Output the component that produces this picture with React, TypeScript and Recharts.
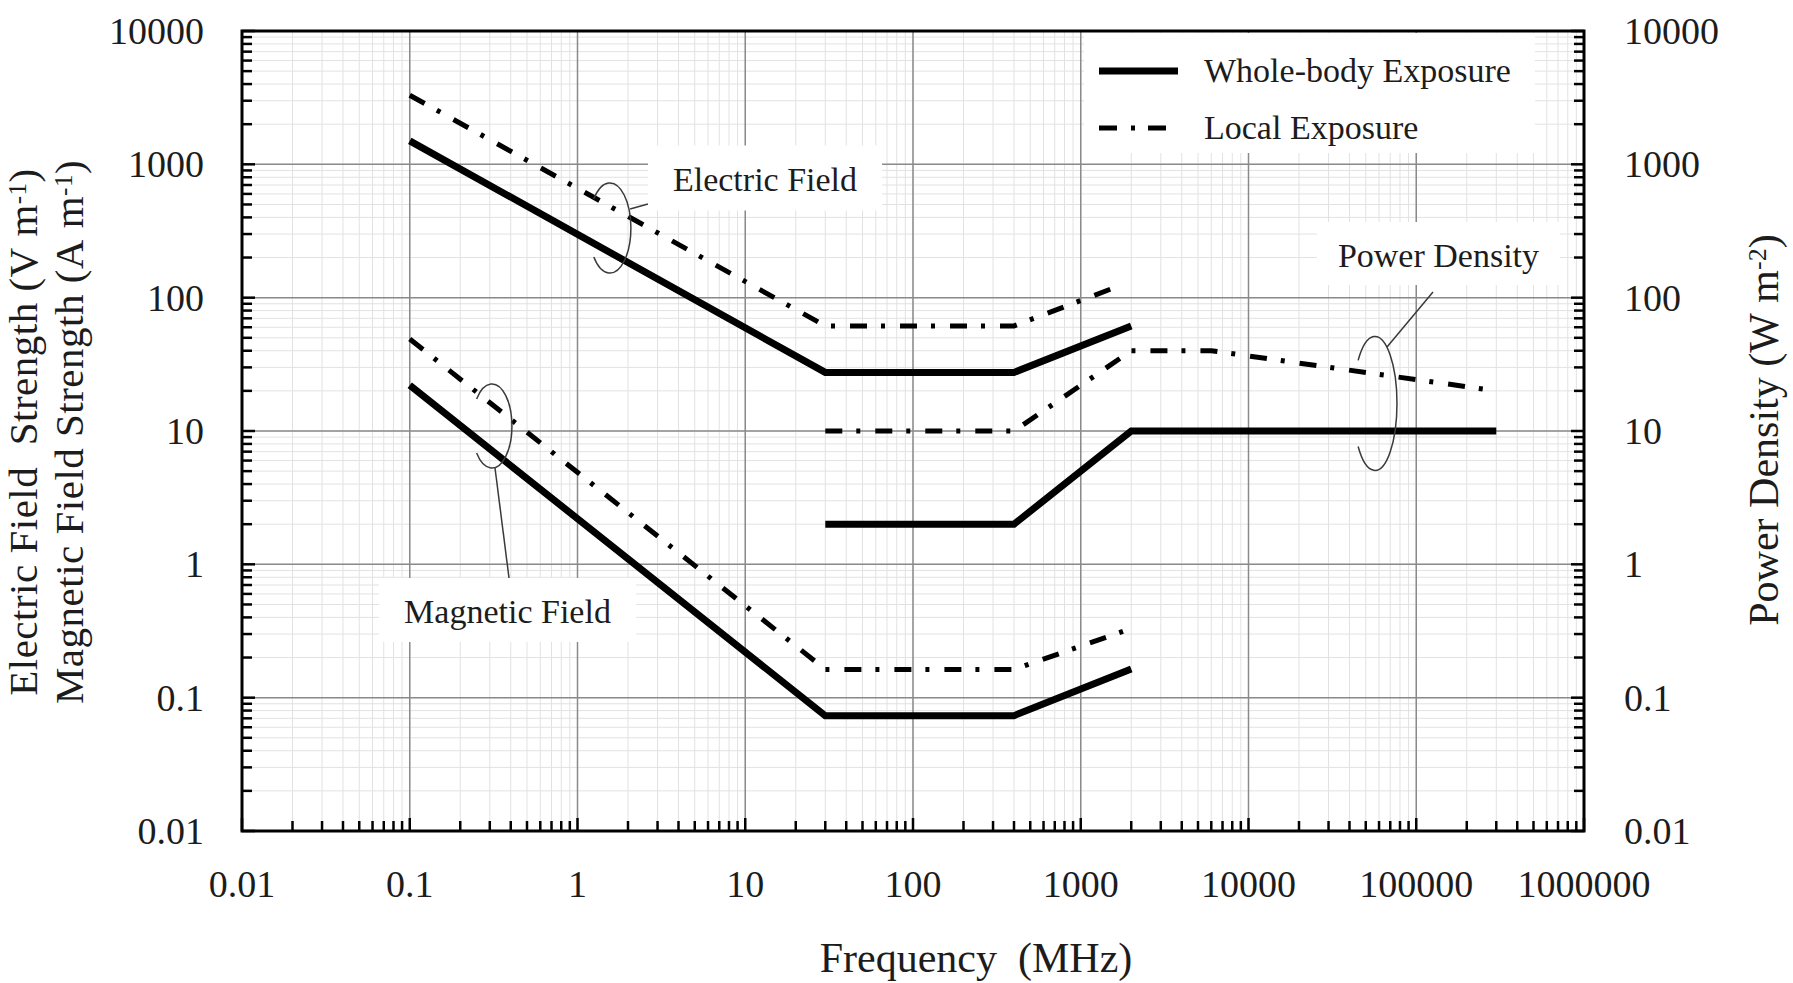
import React from 'react';
import {
  ComposedChart,
  Line,
  XAxis,
  YAxis,
  CartesianGrid,
  ReferenceArea,
  ReferenceDot,
  ReferenceLine,
  Legend,
} from 'recharts';

const FONT = '"Liberation Serif", "Times New Roman", serif';
const INK = '#1c1c1c';

// ---- tick values / labels ----
const xDecades = [0.01, 0.1, 1, 10, 100, 1000, 10000, 100000, 1000000];
const xDecadeLabels = ['0.01', '0.1', '1', '10', '100', '1000', '10000', '100000', '1000000'];
const yDecades = [0.01, 0.1, 1, 10, 100, 1000, 10000];
const yDecadeLabels = ['0.01', '0.1', '1', '10', '100', '1000', '10000'];
const minorSteps = [2, 3, 4, 5, 6, 7, 8, 9];

const xMinor = xDecades.slice(0, -1).flatMap((d) => minorSteps.map((m) => d * m));
const yMinor = yDecades.slice(0, -1).flatMap((d) => minorSteps.map((m) => d * m));
const xAllTicks = [...xDecades, ...xMinor].sort((a, b) => a - b);
const yAllTicks = [...yDecades, ...yMinor].sort((a, b) => a - b);

// ---- series (frequency in MHz) ----
const eWhole = [
  { f: 0.1, v: 1500 },
  { f: 30, v: 27.5 },
  { f: 400, v: 27.5 },
  { f: 2000, v: 61.4 },
];
const eLocal = [
  { f: 0.1, v: 3300 },
  { f: 30, v: 61.4 },
  { f: 400, v: 61.4 },
  { f: 1650, v: 121 },
];
const hWhole = [
  { f: 0.1, v: 22 },
  { f: 30, v: 0.0733 },
  { f: 400, v: 0.0733 },
  { f: 2000, v: 0.164 },
];
const hLocal = [
  { f: 0.1, v: 49 },
  { f: 30, v: 0.163 },
  { f: 400, v: 0.163 },
  { f: 2000, v: 0.33 },
];
const pdWhole = [
  { f: 30, v: 2 },
  { f: 400, v: 2 },
  { f: 2000, v: 10 },
  { f: 300000, v: 10 },
];
const pdLocal = [
  { f: 30, v: 10 },
  { f: 400, v: 10 },
  { f: 2000, v: 40 },
  { f: 6000, v: 40 },
  { f: 300000, v: 20 },
];

// ---- annotations (data coordinates) ----
const ellipseAnchors = [
  { f: 1.56, v: 333, rx: 21, ry: 45, axis: 'left' },
  { f: 0.309, v: 10.9, rx: 20, ry: 42, axis: 'left' },
  { f: 56750, v: 16.1, rx: 22, ry: 67, axis: 'right' },
];
const leaderLines = [
  { from: { f: 2.06, v: 462 }, to: { f: 2.63, v: 504 }, axis: 'left' },
  { from: { f: 0.3223, v: 5.28 }, to: { f: 0.3906, v: 0.79 }, axis: 'left' },
  { from: { f: 66940, v: 42.7 }, to: { f: 125850, v: 110.3 }, axis: 'right' },
];
const calloutLabels = [
  { text: 'Electric Field', f: 13.12, v: 790, w: 234, h: 65, axis: 'left' },
  { text: 'Magnetic Field', f: 0.3826, v: 0.4545, w: 257, h: 64, axis: 'left' },
  { text: 'Power Density', f: 135700, v: 214.4, w: 243, h: 63, axis: 'right' },
];

const isDecade = (v: number) => Math.abs(Math.log10(v) - Math.round(Math.log10(v))) < 1e-6;
const decadeLabel = (v: number, decades: number[], labels: string[]) => {
  const i = decades.findIndex((d) => Math.abs(Math.log10(d) - Math.log10(v)) < 1e-6);
  return i >= 0 ? labels[i] : '';
};

const XTick = (props: any) => {
  const { x, y, payload } = props;
  const v = payload.value;
  const major = isDecade(v);
  return (
    <g>
      <line x1={x} x2={x} y1={y} y2={y - (major ? 13 : 10)} stroke="#000" strokeWidth={2.5} />
      {major && (
        <text x={x} y={y + 66} textAnchor="middle" fontSize={38} fontFamily={FONT} fill={INK}>
          {decadeLabel(v, xDecades, xDecadeLabels)}
        </text>
      )}
    </g>
  );
};

const LeftTick = (props: any) => {
  const { x, y, payload } = props;
  const v = payload.value;
  const major = isDecade(v);
  return (
    <g>
      <line x1={x} x2={x + (major ? 13 : 10)} y1={y} y2={y} stroke="#000" strokeWidth={2.5} />
      {major && (
        <text x={x - 38} y={y + 13} textAnchor="end" fontSize={38} fontFamily={FONT} fill={INK}>
          {decadeLabel(v, yDecades, yDecadeLabels)}
        </text>
      )}
    </g>
  );
};

const RightTick = (props: any) => {
  const { x, y, payload } = props;
  const v = payload.value;
  const major = isDecade(v);
  return (
    <g>
      <line x1={x} x2={x - (major ? 13 : 10)} y1={y} y2={y} stroke="#000" strokeWidth={2.5} />
      {major && (
        <text x={x + 40} y={y + 13} textAnchor="start" fontSize={38} fontFamily={FONT} fill={INK}>
          {decadeLabel(v, yDecades, yDecadeLabels)}
        </text>
      )}
    </g>
  );
};

const TITLE_SIZE = 42;

const XTitle = (props: any) => {
  const vb = props.viewBox || { x: 242, y: 831, width: 1342, height: 152 };
  return (
    <text x={vb.x + 734} y={vb.y + 141} textAnchor="middle" fontSize={TITLE_SIZE} fontFamily={FONT} fill={INK}>
      {'Frequency\u00A0\u00A0(MHz)'}
    </text>
  );
};

const LeftTitle = (props: any) => {
  const vb = props.viewBox || { x: 0, y: 31, width: 242, height: 800 };
  const cy = vb.y + vb.height / 2 + 1;
  const x1 = vb.x + 37;
  const x2 = vb.x + 83;
  return (
    <g fontFamily={FONT} fontSize={41} fill={INK} letterSpacing={0.5}>
      <text x={x1} y={cy} textAnchor="middle" transform={`rotate(-90, ${x1}, ${cy})`}>
        {'Electric\u00A0Field\u00A0\u00A0Strength\u00A0(V\u00A0m'}
        <tspan dy={-11} fontSize={25}>-1</tspan>
        <tspan dy={11}>)</tspan>
      </text>
      <text x={x2} y={cy} textAnchor="middle" transform={`rotate(-90, ${x2}, ${cy})`}>
        {'Magnetic\u00A0Field\u00A0Strength\u00A0(A\u00A0m'}
        <tspan dy={-11} fontSize={25}>-1</tspan>
        <tspan dy={11}>)</tspan>
      </text>
    </g>
  );
};

const RightTitle = (props: any) => {
  const vb = props.viewBox || { x: 1584, y: 31, width: 209, height: 800 };
  const cy = vb.y + vb.height / 2 - 1;
  const x = vb.x + 194;
  return (
    <text
      x={x}
      y={cy}
      textAnchor="middle"
      transform={`rotate(-90, ${x}, ${cy})`}
      fontFamily={FONT}
      fontSize={TITLE_SIZE}
      fill={INK}
    >
      {'Power\u00A0Density\u00A0(W\u00A0m'}
      <tspan dy={-12} fontSize={26}>-2</tspan>
      <tspan dy={12}>)</tspan>
    </text>
  );
};

const ellipseShape = (rx: number, ry: number) => (props: any) => {
  const { cx, cy } = props;
  const a = (140 * Math.PI) / 180;
  const sx = cx + rx * Math.cos(-a);
  const sy = cy + ry * Math.sin(-a);
  const ex = cx + rx * Math.cos(a);
  const ey = cy + ry * Math.sin(a);
  return (
    <path
      d={`M${sx},${sy} A${rx},${ry} 0 1 1 ${ex},${ey}`}
      fill="none"
      stroke="#3a3a3a"
      strokeWidth={1.5}
    />
  );
};

const labelShape = (text: string, w: number, h: number) => (props: any) => {
  const { cx, cy } = props;
  return (
    <g>
      <rect x={cx - w / 2} y={cy - h / 2} width={w} height={h} fill="#fff" />
      <text x={cx} y={cy + 13} textAnchor="middle" fontSize={34} fontFamily={FONT} fill={INK}>
        {text}
      </text>
    </g>
  );
};

const LegendBox = () => (
  <svg width={451} height={120} style={{ display: 'block', background: '#fff' }}>
    <line x1={15} x2={94} y1={38} y2={38} stroke="#000" strokeWidth={7} />
    <text x={120} y={49} fontSize={34} fontFamily={FONT} fill={INK}>
      Whole-body Exposure
    </text>
    <line
      x1={15}
      x2={82}
      y1={95}
      y2={95}
      stroke="#000"
      strokeWidth={5}
      strokeDasharray="18 14 4 13 18 100"
    />
    <text x={120} y={106} fontSize={34} fontFamily={FONT} fill={INK}>
      Local Exposure
    </text>
  </svg>
);

const SOLID_W = 7;
const DASH_W = 5;
const DASH = '17 14 4 15';

export default function App() {
  const xDomain: [number, number] = [0.01, 1000000];
  const yDomain: [number, number] = [0.01, 10000];
  return (
    <div style={{ position: 'absolute', left: 0, top: 0, width: 1793, height: 983, background: '#fff' }}>
      <ComposedChart width={1793} height={983} margin={{ top: 31, right: 0, bottom: 0, left: 0 }}>
        <XAxis
          xAxisId="x"
          dataKey="f"
          type="number"
          scale="log"
          domain={xDomain}
          allowDataOverflow
          ticks={xAllTicks}
          interval={0}
          tick={<XTick />}
          tickLine={false}
          axisLine={false}
          tickSize={0}
          tickMargin={0}
          height={152}
          label={<XTitle />}
        />
        <XAxis
          xAxisId="xmajor"
          dataKey="f"
          type="number"
          scale="log"
          domain={xDomain}
          allowDataOverflow
          ticks={xDecades}
          interval={0}
          hide
        />
        <YAxis
          yAxisId="left"
          orientation="left"
          type="number"
          scale="log"
          domain={yDomain}
          allowDataOverflow
          ticks={yAllTicks}
          interval={0}
          tick={<LeftTick />}
          tickLine={false}
          axisLine={false}
          tickSize={0}
          tickMargin={0}
          width={242}
          label={<LeftTitle />}
        />
        <YAxis
          yAxisId="right"
          orientation="right"
          type="number"
          scale="log"
          domain={yDomain}
          allowDataOverflow
          ticks={yAllTicks}
          interval={0}
          tick={<RightTick />}
          tickLine={false}
          axisLine={false}
          tickSize={0}
          tickMargin={0}
          width={209}
          label={<RightTitle />}
        />
        <YAxis
          yAxisId="ymajor"
          type="number"
          scale="log"
          domain={yDomain}
          allowDataOverflow
          ticks={yDecades}
          interval={0}
          hide
        />

        <CartesianGrid xAxisId="x" yAxisId="left" stroke="#e2e2e2" strokeWidth={1} />
        <CartesianGrid xAxisId="xmajor" yAxisId="ymajor" stroke="#8a8a8a" strokeWidth={1.5} />

        {calloutLabels.map((c) => (
          <ReferenceDot
            key={c.text}
            xAxisId="x"
            yAxisId={c.axis}
            x={c.f}
            y={c.v}
            r={1}
            ifOverflow="visible"
            shape={labelShape(c.text, c.w, c.h)}
          />
        ))}

        <ReferenceArea
          xAxisId="x"
          yAxisId="left"
          x1={xDomain[0]}
          x2={xDomain[1]}
          y1={yDomain[0]}
          y2={yDomain[1]}
          fill="none"
          fillOpacity={0}
          stroke="#000"
          strokeWidth={3}
          ifOverflow="visible"
        />

        <Line xAxisId="x" yAxisId="left" data={eWhole} dataKey="v" type="linear" stroke="#000" strokeWidth={SOLID_W} dot={false} activeDot={false} isAnimationActive={false} strokeLinejoin="miter" />
        <Line xAxisId="x" yAxisId="left" data={eLocal} dataKey="v" type="linear" stroke="#000" strokeWidth={DASH_W} strokeDasharray={DASH} dot={false} activeDot={false} isAnimationActive={false} />
        <Line xAxisId="x" yAxisId="left" data={hWhole} dataKey="v" type="linear" stroke="#000" strokeWidth={SOLID_W} dot={false} activeDot={false} isAnimationActive={false} strokeLinejoin="miter" />
        <Line xAxisId="x" yAxisId="left" data={hLocal} dataKey="v" type="linear" stroke="#000" strokeWidth={DASH_W} strokeDasharray={DASH} dot={false} activeDot={false} isAnimationActive={false} />
        <Line xAxisId="x" yAxisId="right" data={pdWhole} dataKey="v" type="linear" stroke="#000" strokeWidth={SOLID_W} dot={false} activeDot={false} isAnimationActive={false} strokeLinejoin="miter" />
        <Line xAxisId="x" yAxisId="right" data={pdLocal} dataKey="v" type="linear" stroke="#000" strokeWidth={DASH_W} strokeDasharray={DASH} dot={false} activeDot={false} isAnimationActive={false} />

        {ellipseAnchors.map((e, i) => (
          <ReferenceDot
            key={`ell-${i}`}
            xAxisId="x"
            yAxisId={e.axis}
            x={e.f}
            y={e.v}
            r={1}
            ifOverflow="visible"
            shape={ellipseShape(e.rx, e.ry)}
          />
        ))}
        {leaderLines.map((l, i) => (
          <ReferenceLine
            key={`lead-${i}`}
            xAxisId="x"
            yAxisId={l.axis}
            segment={[
              { x: l.from.f, y: l.from.v },
              { x: l.to.f, y: l.to.v },
            ]}
            stroke="#3a3a3a"
            strokeWidth={1.5}
            ifOverflow="visible"
          />
        ))}

        <Legend
          content={<LegendBox />}
          layout="horizontal"
          verticalAlign="middle"
          align="center"
          wrapperStyle={{ position: 'absolute', left: 1084, top: 33, width: 451, height: 120 }}
        />
      </ComposedChart>
    </div>
  );
}
